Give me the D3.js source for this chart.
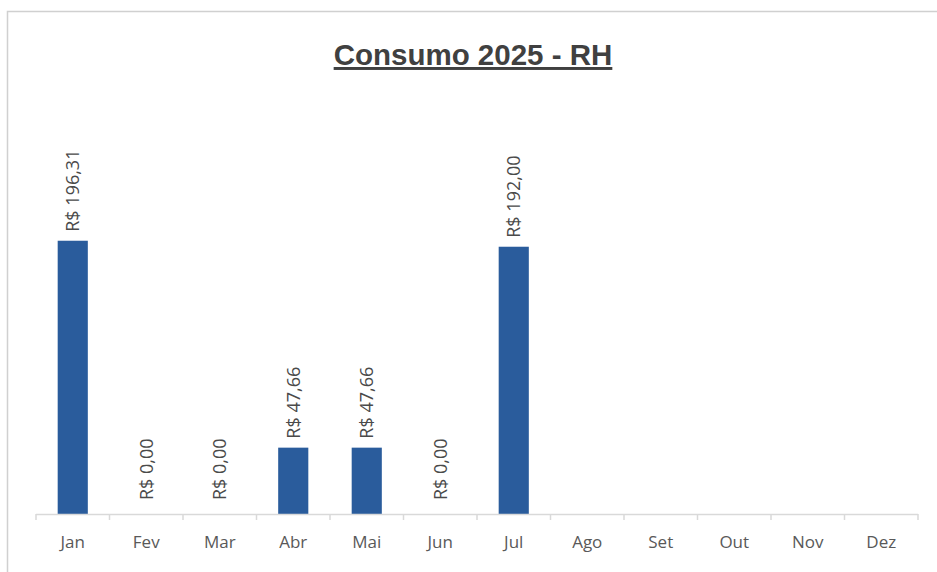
<!DOCTYPE html>
<html>
<head>
<meta charset="utf-8">
<script src="https://cdn.jsdelivr.net/npm/d3@7"></script>
<style>
  html, body { margin: 0; padding: 0; background: #fff; }
  svg { display: block; }
</style>
</head>
<body>
<svg id="chart" width="937" height="572"></svg>
<script>
const title = "Consumo 2025 - RH";
const months = ["Jan", "Fev", "Mar", "Abr", "Mai", "Jun", "Jul", "Ago", "Set", "Out", "Nov", "Dez"];
const values = [196.31, 0, 0, 47.66, 47.66, 0, 192.00, null, null, null, null, null];

const svg = d3.select("#chart");

// chart border (light gray, partly cropped)
svg.append("path")
  .attr("d", "M7.5,572 V11.5 H937")
  .attr("fill", "none")
  .attr("stroke", "#d0d0d0")
  .attr("stroke-width", 1.5);

const x = d3.scaleBand().domain(months).range([36, 918]).paddingInner(0.59).paddingOuter(0.295);
const y = d3.scaleLinear().domain([0, 250]).range([514, 166]);

// title
svg.append("text")
  .attr("x", 473).attr("y", 65)
  .attr("text-anchor", "middle")
  .attr("font-family", "Liberation Sans, Arial, sans-serif")
  .attr("font-weight", "bold")
  .attr("font-size", 29.5)
  .attr("fill", "#404040")
  .attr("text-decoration", "underline")
  .text(title);

// bars
const data = months.map((m, i) => ({ m, v: values[i] }));
svg.append("g").selectAll("rect")
  .data(data.filter(d => d.v !== null))
  .join("rect")
  .attr("x", d => x(d.m))
  .attr("width", x.bandwidth())
  .attr("y", d => y(d.v))
  .attr("height", d => y(0) - y(d.v))
  .attr("fill", "#2a5c9c");

// axis
const axisG = svg.append("g").attr("transform", "translate(0,514)");
const band = (918 - 36) / 12;
axisG.append("line").attr("x1", 36).attr("x2", 918).attr("y1", 0.5).attr("y2", 0.5)
  .attr("stroke", "#d9d9d9").attr("stroke-width", 1.5);
axisG.selectAll("line.tick")
  .data(d3.range(13))
  .join("line").attr("class", "tick")
  .attr("x1", i => 36 + i * band).attr("x2", i => 36 + i * band)
  .attr("y1", 0).attr("y2", 6)
  .attr("stroke", "#d9d9d9").attr("stroke-width", 1.5);
axisG.selectAll("text")
  .data(months)
  .join("text")
  .attr("x", d => x(d) + x.bandwidth() / 2)
  .attr("y", 34)
  .attr("text-anchor", "middle")
  .attr("font-family", "Open Sans, Liberation Sans, sans-serif")
  .attr("font-size", 17)
  .attr("fill", "#595959")
  .text(d => d);

// value labels
const fmt = v => "R$ " + v.toFixed(2).replace(".", ",");
svg.append("g").selectAll("text")
  .data(data.filter(d => d.v !== null))
  .join("text")
  .attr("transform", d => `translate(${x(d.m) + x.bandwidth() / 2 + 6.5},${y(d.v) - (d.v === 0 ? 14 : 9)}) rotate(-90)`)
  .attr("text-anchor", "start")
  .attr("font-family", "Open Sans, Liberation Sans, sans-serif")
  .attr("font-size", 18)
  .attr("fill", "#4a4a4a")
  .text(d => fmt(d.v));
</script>
</body>
</html>
